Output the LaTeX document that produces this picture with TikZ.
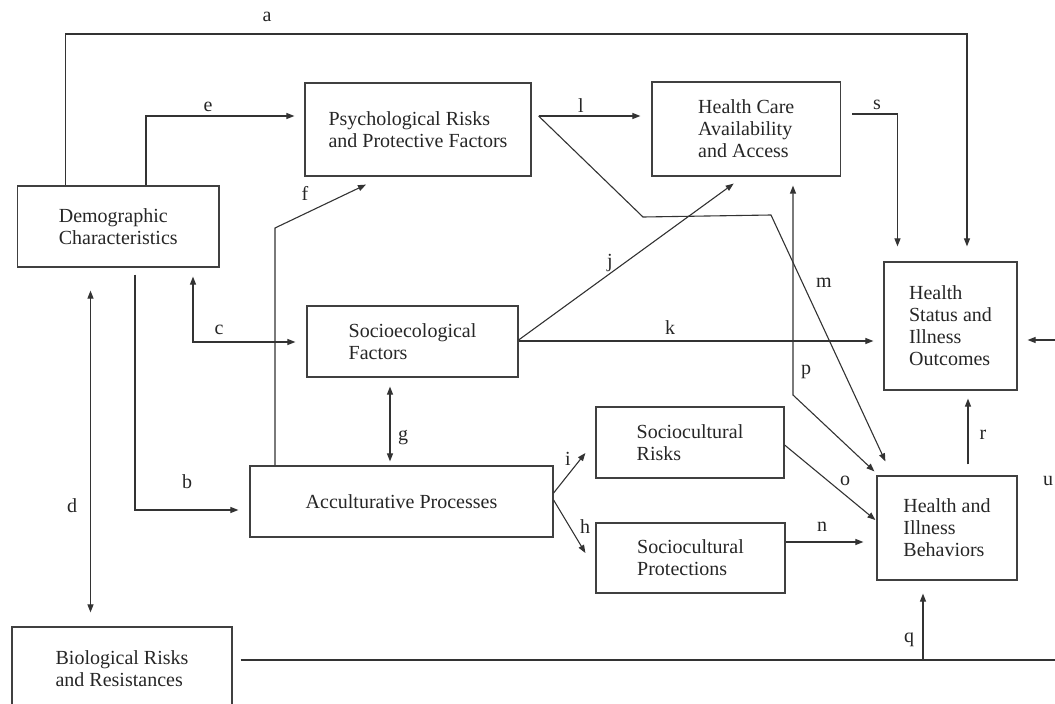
\documentclass[tikz,border=0pt]{standalone}
\usepackage{fontspec}
\setmainfont{Liberation Serif}
\usetikzlibrary{arrows.meta,calc}
\begin{document}
\begin{tikzpicture}[x=1pt,y=-1pt,
  line width=1.1pt, draw=black!80,
  txt/.style={font=\fontsize{20}{22}\selectfont, text=black!85},
  box/.style={txt, draw=black!75, line width=1.2pt, inner sep=0pt, align=left},
  lab/.style={txt, inner sep=0pt},
  tip/.style={-{Triangle[length=8pt,width=6pt]}},
  tips/.style={{Triangle[length=8pt,width=6pt]}-{Triangle[length=8pt,width=6pt]}}]
\useasboundingbox (0,0) rectangle (1055,704);
\clip (0,0) rectangle (1055,704);
% boxes
\node[box, minimum width=201.5pt, minimum height=81pt] (demo) at (118.25,226.5) {Demographic\\Characteristics};
\node[box, minimum width=226pt, minimum height=93pt] (psych) at (418,129.5) {Psychological Risks\\and Protective Factors};
\node[box, minimum width=188.5pt, minimum height=94pt] (hc) at (746.25,129) {Health Care\\Availability\\and Access};
\node[box, minimum width=133pt, minimum height=128pt] (hs) at (950.5,326) {Health\\Status and\\Illness\\Outcomes};
\node[box, minimum width=211pt, minimum height=71pt] (socio) at (412.5,341.5) {Socioecological\\Factors};
\node[box, minimum width=303pt, minimum height=71pt] (accul) at (401.5,501.5) {Acculturative Processes};
\node[box, minimum width=188pt, minimum height=71pt] (sr) at (690,442.5) {Sociocultural\\Risks};
\node[box, minimum width=189pt, minimum height=70pt] (sp) at (690.5,558) {Sociocultural\\Protections};
\node[box, minimum width=140pt, minimum height=104pt] (hi) at (947,528) {Health and\\Illness\\Behaviors};
\node[box, minimum width=220pt, minimum height=83pt] (bio) at (122,668.5) {Biological Risks\\and Resistances};
% free ends
\coordinate (uend) at (1055,340);
\coordinate (qend) at (1055,660);
\coordinate (qjoin) at (923,660);
% connectors
\draw[tip, shorten >=15pt] (65.6,0 |- demo.north) |- (967,34) -- (967,0 |- hs.north);
\draw[tip, shorten >=10pt] (146,0 |- demo.north) |- (psych.west |- 0,116);
\draw[tip] (275,0 |- accul.north) -- (275,228) -- ($(psych.south)+(-52,8)$);
\draw[tip, shorten <=7pt, shorten >=11pt] (135,0 |- demo.south) |- (accul.west |- 0,510);
\draw[tips, shorten <=9pt, shorten >=11pt] (193,0 |- demo.south) |- (socio.west |- 0,342);
\draw[tips, shorten <=23pt, shorten >=14pt] (90.5,0 |- demo.south) -- (90.5,0 |- bio.north);
\draw[tips, shorten <=9pt, shorten >=4pt] (390,0 |- socio.south) -- (390,0 |- accul.north);
\draw[tip, shorten <=7pt, shorten >=11pt] (psych.east |- 0,116) -- (hc.west |- 0,116);
\draw[tip] ($(psych.east |- 0,116)+(7,0)$) -- (643,217) -- (771,215) -- ($(hi.north west)+(9,-14)$);
\draw[tip, shorten <=11pt, shorten >=15pt] (hc.east |- 0,114) -| (897.5,0 |- hs.north);
\draw[tip] (socio.east |- 0,340) -- ($(hc.south)+(-12.6,7)$);
\draw[tip, shorten >=10pt] (socio.east |- 0,341) -- (hs.west |- 0,341);
\draw[tips] ($(hc.south)+(46.75,9)$) -- (793,395) -- ($(hi.north west)+(-2,-4)$);
\draw[tip, shorten >=10pt] (uend) -- (hs.east |- uend);
\draw[tip, shorten <=11pt, shorten >=8pt] (968,0 |- hi.north) -- (968,0 |- hs.south);
\draw[tip] (accul.east |- 0,493) -- ($(sr.west)+(-10,10.5)$);
\draw[tip] (accul.east |- 0,500) -- ($(sp.west)+(-10,-5)$);
\draw[tip] (sr.east |- 0,445) -- ($(hi.west)+(-1,-8)$);
\draw[tip, shorten >=13pt] (sp.east |- 0,542) -- (hi.west |- 0,542);
\draw[shorten <=8pt] (bio.east |- qend) -- (qend);
\draw[tip, shorten >=13pt] (qjoin) -- (qjoin |- hi.south);
% labels
\node[lab] (la) at (267,17) {a};
\node[lab] (lb) at (187,482) {b};
\node[lab] (lc) at (219,330) {c};
\node[lab] (ld) at (72,506) {d};
\node[lab] (le) at (208,107) {e};
\node[lab] (lf) at (305,193) {f};
\node[lab] (lg) at (403,438) {g};
\node[lab] (lh) at (585,527) {h};
\node[lab] (li) at (568,459) {i};
\node[lab] (lj) at (610,263) {j};
\node[lab] (lk) at (670,328) {k};
\node[lab] (ll) at (581,106) {l};
\node[lab] (lm) at (824,283) {m};
\node[lab] (ln) at (822,527) {n};
\node[lab] (lo) at (845,481) {o};
\node[lab] (lp) at (806,372) {p};
\node[lab] (lq) at (909,640) {q};
\node[lab] (lr) at (983,435) {r};
\node[lab] (ls) at (877,105) {s};
\node[lab] (lu) at (1048,481) {u};
\end{tikzpicture}
\end{document}
